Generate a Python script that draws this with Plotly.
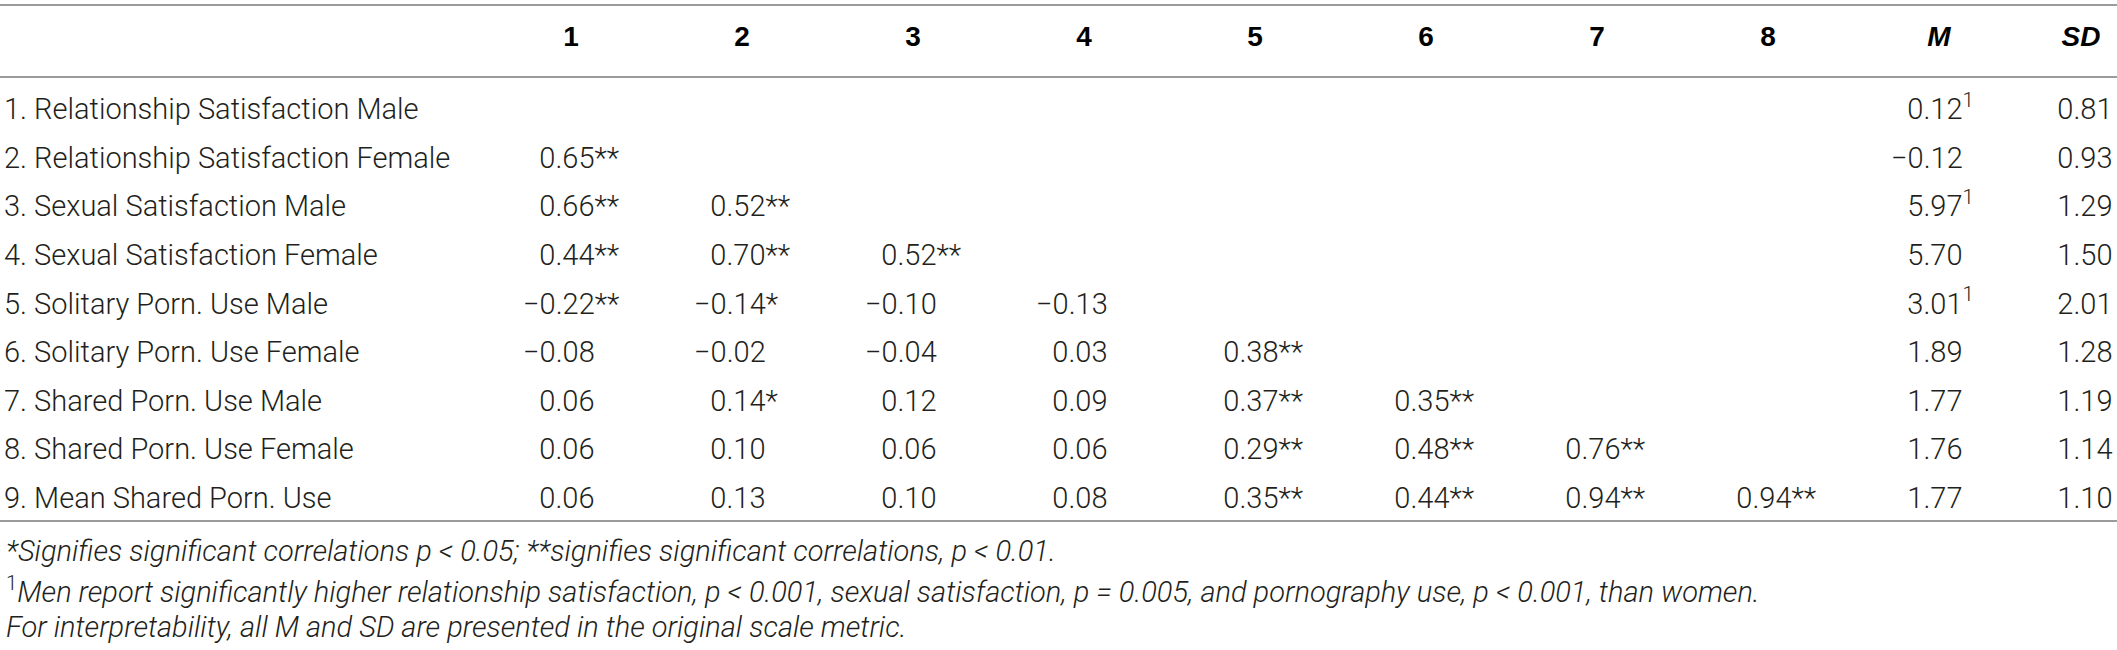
import plotly.graph_objects as go

# ---- data ----
row_labels = [
    "1. Relationship Satisfaction Male",
    "2. Relationship Satisfaction Female",
    "3. Sexual Satisfaction Male",
    "4. Sexual Satisfaction Female",
    "5. Solitary Porn. Use Male",
    "6. Solitary Porn. Use Female",
    "7. Shared Porn. Use Male",
    "8. Shared Porn. Use Female",
    "9. Mean Shared Porn. Use",
]
col_headers = ["1", "2", "3", "4", "5", "6", "7", "8", "M", "SD"]

# lower triangle of correlations, one list per row
corr = [
    [],
    [0.65],
    [0.66, 0.52],
    [0.44, 0.70, 0.52],
    [-0.22, -0.14, -0.10, -0.13],
    [-0.08, -0.02, -0.04, 0.03, 0.38],
    [0.06, 0.14, 0.12, 0.09, 0.37, 0.35],
    [0.06, 0.10, 0.06, 0.06, 0.29, 0.48, 0.76],
    [0.06, 0.13, 0.10, 0.08, 0.35, 0.44, 0.94, 0.94],
]
stars = [
    [],
    ["**"],
    ["**", "**"],
    ["**", "**", "**"],
    ["**", "*", "", ""],
    ["", "", "", "", "**"],
    ["", "*", "", "", "**", "**"],
    ["", "", "", "", "**", "**", "**"],
    ["", "", "", "", "**", "**", "**", "**"],
]
means = [0.12, -0.12, 5.97, 5.70, 3.01, 1.89, 1.77, 1.76, 1.77]
mean_sup = ["1", "", "1", "", "1", "", "", "", ""]
sds = [0.81, 0.93, 1.29, 1.50, 2.01, 1.28, 1.19, 1.14, 1.10]

footnotes = [
    "<i>*Signifies significant correlations p < 0.05; **signifies significant correlations, p < 0.01.</i>",
    "<sup>1</sup><i>Men report significantly higher relationship satisfaction, p < 0.001, sexual satisfaction, "
    "p = 0.005, and pornography use, p < 0.001, than women.</i>",
    "<i>For interpretability, all M and SD are presented in the original scale metric.</i>",
]

# ---- layout constants (pixels) ----
W, H = 2117, 650
LABEL_X = 4
# left edge of each value column (where a minus sign starts), and header centres
COL_LEFT = [523 + 171 * k for k in range(9)] + [2041]
HEAD_X = [571 + 171 * k for k in range(9)] + [2081]
HEADER_Y = 39
ROW_Y0, ROW_STEP = 112, 48.6
RULES_Y = [5, 77, 521]
FOOT_Y = [551, 590, 627]

FONT = "Roboto, Liberation Sans, Arial, sans-serif"
HEAD_FONT = "Liberation Sans, Arial, Helvetica, sans-serif"
TXT = "#231f20"
BODY = 29
FOOT = 29


def fmt(v):
    # figure space in front of positives keeps the decimal points lined up
    s = f"{abs(v):.2f}"
    return ("\u2212" + s) if v < 0 else ("\u2007" + s)


row_y = [ROW_Y0 + i * ROW_STEP for i in range(len(row_labels))]
body_font = dict(family=FONT, size=BODY, color=TXT, weight=300)

fig = go.Figure()

# row labels
fig.add_trace(go.Scatter(
    x=[LABEL_X] * len(row_labels), y=row_y, text=row_labels,
    mode="text", textposition="middle right",
    textfont=body_font, hoverinfo="skip"))

# header
head_txt = [f"<b>{h}</b>" if h.isdigit() else f"<b><i>{h}</i></b>" for h in col_headers]
fig.add_trace(go.Scatter(
    x=HEAD_X, y=[HEADER_Y] * len(HEAD_X), text=head_txt,
    mode="text", textposition="middle center",
    textfont=dict(family=HEAD_FONT, size=28, color="#000000"), hoverinfo="skip"))

# correlation columns
for c in range(8):
    ys, ts = [], []
    for r in range(len(row_labels)):
        if c < len(corr[r]):
            ys.append(row_y[r])
            ts.append(fmt(corr[r][c]) + stars[r][c])
    if ys:
        fig.add_trace(go.Scatter(
            x=[COL_LEFT[c]] * len(ys), y=ys, text=ts,
            mode="text", textposition="middle right",
            textfont=body_font, hoverinfo="skip"))

# M and SD
m_txt = [fmt(v) + (f"<sup>{s}</sup>" if s else "") for v, s in zip(means, mean_sup)]
fig.add_trace(go.Scatter(
    x=[COL_LEFT[8]] * len(means), y=row_y, text=m_txt,
    mode="text", textposition="middle right",
    textfont=body_font, hoverinfo="skip"))
fig.add_trace(go.Scatter(
    x=[COL_LEFT[9]] * len(sds), y=row_y, text=[fmt(v) for v in sds],
    mode="text", textposition="middle right",
    textfont=body_font, hoverinfo="skip"))

# horizontal rules
for yy in RULES_Y:
    fig.add_shape(type="line", xref="x", yref="y", x0=0, x1=W, y0=yy, y1=yy,
                  line=dict(color="#9a9a9a", width=2))

# footnotes
for txt, yy in zip(footnotes, FOOT_Y):
    fig.add_annotation(x=LABEL_X, y=yy, xref="x", yref="y", text=txt,
                       showarrow=False, xanchor="left", yanchor="middle",
                       font=dict(family=FONT, size=FOOT, color=TXT, weight=300))

fig.update_layout(
    width=W, height=H,
    margin=dict(l=0, r=0, t=0, b=0),
    paper_bgcolor="white", plot_bgcolor="white",
    showlegend=False,
    xaxis=dict(range=[0, W], visible=False, fixedrange=True),
    yaxis=dict(range=[H, 0], visible=False, fixedrange=True),
)

fig.write_html("out.html", config={"displayModeBar": False},
               post_script="document.body.style.margin='0';document.body.style.overflow='hidden';")
